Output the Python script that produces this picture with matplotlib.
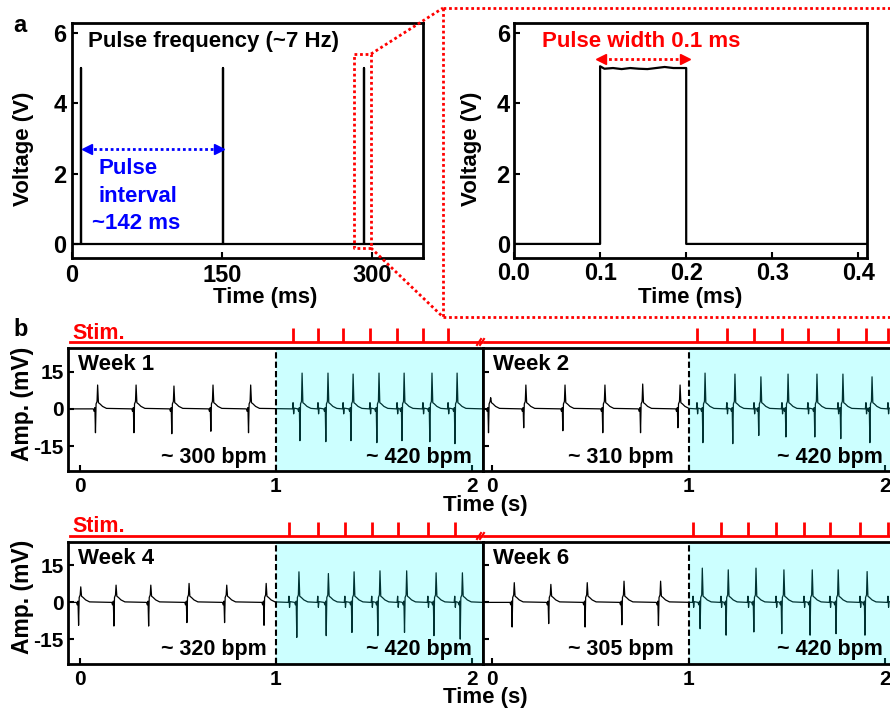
import matplotlib
matplotlib.use('Agg')
import matplotlib.pyplot as plt
from matplotlib.lines import Line2D

plt.rcParams['font.family'] = ['Liberation Sans', 'DejaVu Sans']
plt.rcParams['font.weight'] = 'bold'
plt.rcParams['axes.linewidth'] = 2.0
plt.rcParams['axes.unicode_minus'] = False

W, H = 890, 711

# ---- panel a data ----
PULSE_TIMES_MS = [9, 151, 292]
PULSE_AMP_V = 5.0
ZOOM_T = [0.0, 0.1, 0.1, 0.105, 0.115, 0.125, 0.135, 0.145, 0.155, 0.165, 0.175, 0.185, 0.2, 0.2, 0.41]
ZOOM_V = [0, 0, 5.05, 4.98, 5.0, 4.97, 5.0, 4.98, 4.97, 5.0, 5.03, 5.0, 5.0, 0, 0]

# ---- panel b data: peak time (s), up / down amplitude (mV), stim pulse times ----
W1_REST_T = [0.091, 0.287, 0.48, 0.679, 0.871]
W1_REST_UP = [9.6, 9.6, 9.2, 9.6, 9.6]
W1_REST_DN = [-9.6, -9.6, -10.0, -9.0, -9.6]
W1_STIM_T = [1.133, 1.265, 1.393, 1.525, 1.653, 1.795, 1.923]
W1_STIM_UP = [14.4, 14.4, 14.0, 14.4, 14.4, 14.4, 14.4]
W1_STIM_DN = [-12.8, -13.2, -12.8, -13.6, -12.8, -13.2, -14.0]
W1_PULSES = [1.087, 1.214, 1.342, 1.479, 1.617, 1.749, 1.877]

W2_REST_T = [-0.006, 0.173, 0.372, 0.575, 0.767, 0.957]
W2_REST_UP = [4.5, 9.6, 9.6, 9.6, 10.0, 9.6]
W2_REST_DN = [-9.6, -7.6, -8.8, -9.6, -9.6, -7.6]
W2_STIM_T = [1.084, 1.236, 1.368, 1.506, 1.653, 1.785, 1.933]
W2_STIM_UP = [14.4, 14.0, 12.9, 14.0, 14.0, 14.0, 12.9]
W2_STIM_DN = [-13.6, -14.0, -10.7, -11.3, -11.3, -12.0, -13.6]
W2_PULSES = [1.043, 1.195, 1.333, 1.475, 1.607, 1.76, 1.902, 2.014]

W4_REST_T = [0.005, 0.185, 0.362, 0.557, 0.749, 0.95]
W4_REST_UP = [6.3, 7.0, 7.0, 7.7, 7.0, 7.7]
W4_REST_DN = [-9.3, -9.6, -9.6, -8.2, -8.2, -9.3]
W4_STIM_T = [1.117, 1.267, 1.398, 1.53, 1.666, 1.816, 1.95]
W4_STIM_UP = [12.4, 11.7, 12.4, 12.8, 12.8, 12.0, 12.0]
W4_STIM_DN = [-14.2, -13.5, -12.2, -13.5, -12.2, -13.5, -14.9]
W4_PULSES = [1.066, 1.213, 1.351, 1.488, 1.62, 1.774, 1.911]

W6_REST_T = [0.114, 0.30, 0.485, 0.672, 0.858]
W6_REST_UP = [8.0, 7.3, 8.0, 8.6, 8.6]
W6_REST_DN = [-10.0, -8.6, -10.0, -9.1, -9.4]
W6_STIM_T = [1.07, 1.202, 1.343, 1.485, 1.629, 1.761, 1.908]
W6_STIM_UP = [13.9, 13.2, 13.9, 13.2, 13.2, 13.2, 12.5]
W6_STIM_DN = [-10.7, -13.3, -12.0, -12.7, -13.3, -12.7, -13.3]
W6_PULSES = [1.023, 1.165, 1.302, 1.445, 1.587, 1.719, 1.872, 2.014]

WEEK_LABELS = ['Week 1', 'Week 2', 'Week 4', 'Week 6']
REST_BPM = ['~ 300 bpm', '~ 310 bpm', '~ 320 bpm', '~ 305 bpm']
STIM_BPM = '~ 420 bpm'

# beat shape around the main upward peak
BEAT_DT = [-0.022, -0.018, -0.014, -0.011, -0.008, -0.003, 0.0, 0.004, 0.012, 0.025, 0.045]
ART_DT = [-0.003, 0.0, 0.003, 0.006]
ART_V = [0.0, 2.5, -2.0, 0.3]


def px(x, y):
    return x / W, 1 - y / H


def box(l, t, r, b):
    return [l / W, 1 - b / H, (r - l) / W, (b - t) / H]


def trace(xlim, beat_t, beat_up, beat_dn, pulses):
    pts = [(xlim[0], 0.0), (xlim[1], 0.0)]
    for t0, up, dn in zip(beat_t, beat_up, beat_dn):
        vals = [0, -1.0, 0.5, dn, 2.0, 3.0, up, 2.5, 2.0, 1.0, 0.2]
        pts += [(t0 + d, v) for d, v in zip(BEAT_DT, vals)]
    for tp in pulses:
        pts += [(tp + d, v) for d, v in zip(ART_DT, ART_V)]
    pts.sort()
    return [p[0] for p in pts], [p[1] for p in pts]


fig = plt.figure(figsize=(8.9, 7.11), dpi=100)

# ================= panel a (left) =================
ax1 = fig.add_axes(box(72, 23, 423, 258))
tx, ty = [0], [0]
for p in PULSE_TIMES_MS:
    tx += [p, p, p + 0.1, p + 0.1]
    ty += [0, PULSE_AMP_V, PULSE_AMP_V, 0]
tx.append(351)
ty.append(0)
ax1.plot(tx, ty, color='black', lw=1.6)
ax1.set_xlim(0, 351)
ax1.set_ylim(-0.4, 6.28)
ax1.set_xticks([0, 150, 300])
ax1.set_yticks([0, 2, 4, 6])
ax1.tick_params(direction='in', length=4, width=1.5, labelsize=17, pad=4)
ax1.text(16, 5.74, 'Pulse frequency (~7 Hz)', fontsize=16, va='center')
ax1.plot([16, 146], [2.7, 2.7], color='blue', lw=2, ls=(0, (1, 1)))
ax1.plot([15], [2.7], marker='<', color='blue', ms=7)
ax1.plot([147], [2.7], marker='>', color='blue', ms=7)
ax1.text(27, 2.13, 'Pulse', color='blue', fontsize=16, va='center')
ax1.text(27, 1.34, 'interval', color='blue', fontsize=16, va='center')
ax1.text(20, 0.57, '~142 ms', color='blue', fontsize=16, va='center')
zx0, zx1 = PULSE_TIMES_MS[2] - 10, PULSE_TIMES_MS[2] + 7
ax1.plot([zx0, zx1, zx1, zx0, zx0], [5.4, 5.4, -0.11, -0.11, 5.4],
         color='red', lw=2, ls=(0, (1, 1)), clip_on=False)

# ================= panel a (right) =================
ax2 = fig.add_axes(box(514, 23, 867, 258))
ax2.plot(ZOOM_T, ZOOM_V, color='black', lw=1.6)
ax2.set_xlim(0, 0.41)
ax2.set_ylim(-0.4, 6.28)
ax2.set_xticks([0.0, 0.1, 0.2, 0.3, 0.4])
ax2.set_xticklabels(['0.0', '0.1', '0.2', '0.3', '0.4'])
ax2.set_yticks([0, 2, 4, 6])
ax2.tick_params(direction='in', length=4, width=1.5, labelsize=17, pad=3)
ax2.text(0.033, 5.74, 'Pulse width 0.1 ms', color='red', fontsize=16, va='center')
ax2.plot([0.103, 0.197], [5.25, 5.25], color='red', lw=2, ls=(0, (1, 1)))
ax2.plot([0.101], [5.25], marker='<', color='red', ms=7)
ax2.plot([0.199], [5.25], marker='>', color='red', ms=7)

for cx in (265, 690):
    fig.text(*px(cx, 297), 'Time (ms)', fontsize=16, ha='center', va='center')
for cx in (24, 471):
    fig.text(*px(cx, 149), 'Voltage (V)', fontsize=16, ha='center', va='center', rotation=90)

# zoom guide lines
dot = dict(color='red', lw=2, ls=(0, (1, 1)), transform=fig.transFigure)
for seg in ([(371, 54), (443, 8)], [(371, 248), (443, 317)],
            [(443, 8), (895, 8)], [(443, 8), (443, 317)], [(443, 317), (895, 317)]):
    (xa, ya), (xb, yb) = seg
    fig.add_artist(Line2D([xa / W, xb / W], [1 - ya / H, 1 - yb / H], **dot))

fig.text(*px(13, 26), 'a', fontsize=17, va='center')
fig.text(*px(13, 330), 'b', fontsize=17, va='center')

# ================= panel b =================
rows = [
    (348, 471, 342, [(W1_REST_T, W1_REST_UP, W1_REST_DN, W1_STIM_T, W1_STIM_UP, W1_STIM_DN, W1_PULSES),
                     (W2_REST_T, W2_REST_UP, W2_REST_DN, W2_STIM_T, W2_STIM_UP, W2_STIM_DN, W2_PULSES)]),
    (542, 664, 536, [(W4_REST_T, W4_REST_UP, W4_REST_DN, W4_STIM_T, W4_STIM_UP, W4_STIM_DN, W4_PULSES),
                     (W6_REST_T, W6_REST_UP, W6_REST_DN, W6_STIM_T, W6_STIM_UP, W6_STIM_DN, W6_PULSES)]),
]
cols = [(68, 483, (-0.06, 2.055)), (483, 898, (-0.045, 2.065))]

k = 0
for top, bot, stim_y, weeks in rows:
    for ci, ((l, r, xlim), wk) in enumerate(zip(cols, weeks)):
        rt, ru, rd, st, su, sd, pulses = wk
        ax = fig.add_axes(box(l, top, r, bot))
        x, y = trace(xlim, rt + st, ru + su, rd + sd, pulses)
        ax.plot(x, y, color='black', lw=0.9, zorder=2)
        ax.axvspan(1, xlim[1], color='cyan', alpha=0.2, lw=0, zorder=2.2)
        ax.axvline(1, color='black', lw=1.5, ls=(0, (3, 1.5)), zorder=3)
        ax.set_xlim(*xlim)
        ax.set_ylim(-25, 24.5)
        ax.set_xticks([0, 1, 2])
        ax.set_yticks([-15, 0, 15])
        ax.tick_params(direction='in', length=4, width=1.5, labelsize=15, pad=4)
        ax.tick_params(axis='y', pad=3)
        if ci == 1:
            ax.tick_params(axis='y', labelleft=False)

        # stim line
        sax = fig.add_axes(box(l, stim_y - 20, r, stim_y + 4))
        sax.set_xlim(*xlim)
        sax.set_ylim(-0.2, 1.0)
        sax.axis('off')
        x0 = xlim[0] + 0.01 if ci == 0 else xlim[0] + 0.005
        x1 = xlim[1] - 0.01 if ci == 0 else xlim[1]
        sax.plot([x0, x1], [0, 0], color='red', lw=2, clip_on=False)
        sax.vlines(pulses, 0, 0.7, color='red', lw=2)

        wx = 78 if ci == 0 else 493
        fig.text(*px(wx, top + 17), WEEK_LABELS[k], fontsize=16, va='center')
        rx1 = 267 if ci == 0 else 674
        rx2 = 472 if ci == 0 else 883
        fig.text(*px(rx1, bot - 14), REST_BPM[k], fontsize=15.5, ha='right', va='center')
        fig.text(*px(rx2, bot - 14), STIM_BPM, fontsize=15.5, ha='right', va='center')
        k += 1

    # break mark on stim line
    for dx in (0, 3):
        fig.add_artist(Line2D([(477 + dx) / W, (481 + dx) / W],
                              [1 - (stim_y + 3) / H, 1 - (stim_y - 3) / H],
                              color='red', lw=1.5, transform=fig.transFigure))
    fig.text(*px(72, stim_y - 9), 'Stim.', color='red', fontsize=15.5, va='center')
    fig.text(*px(22, (top + bot) / 2 - 6), 'Amp. (mV)', fontsize=16.5,
             ha='center', va='center', rotation=90)
    fig.text(*px(485, bot + 34), 'Time (s)', fontsize=16, ha='center', va='center')

fig.savefig('out.png', dpi=100)
